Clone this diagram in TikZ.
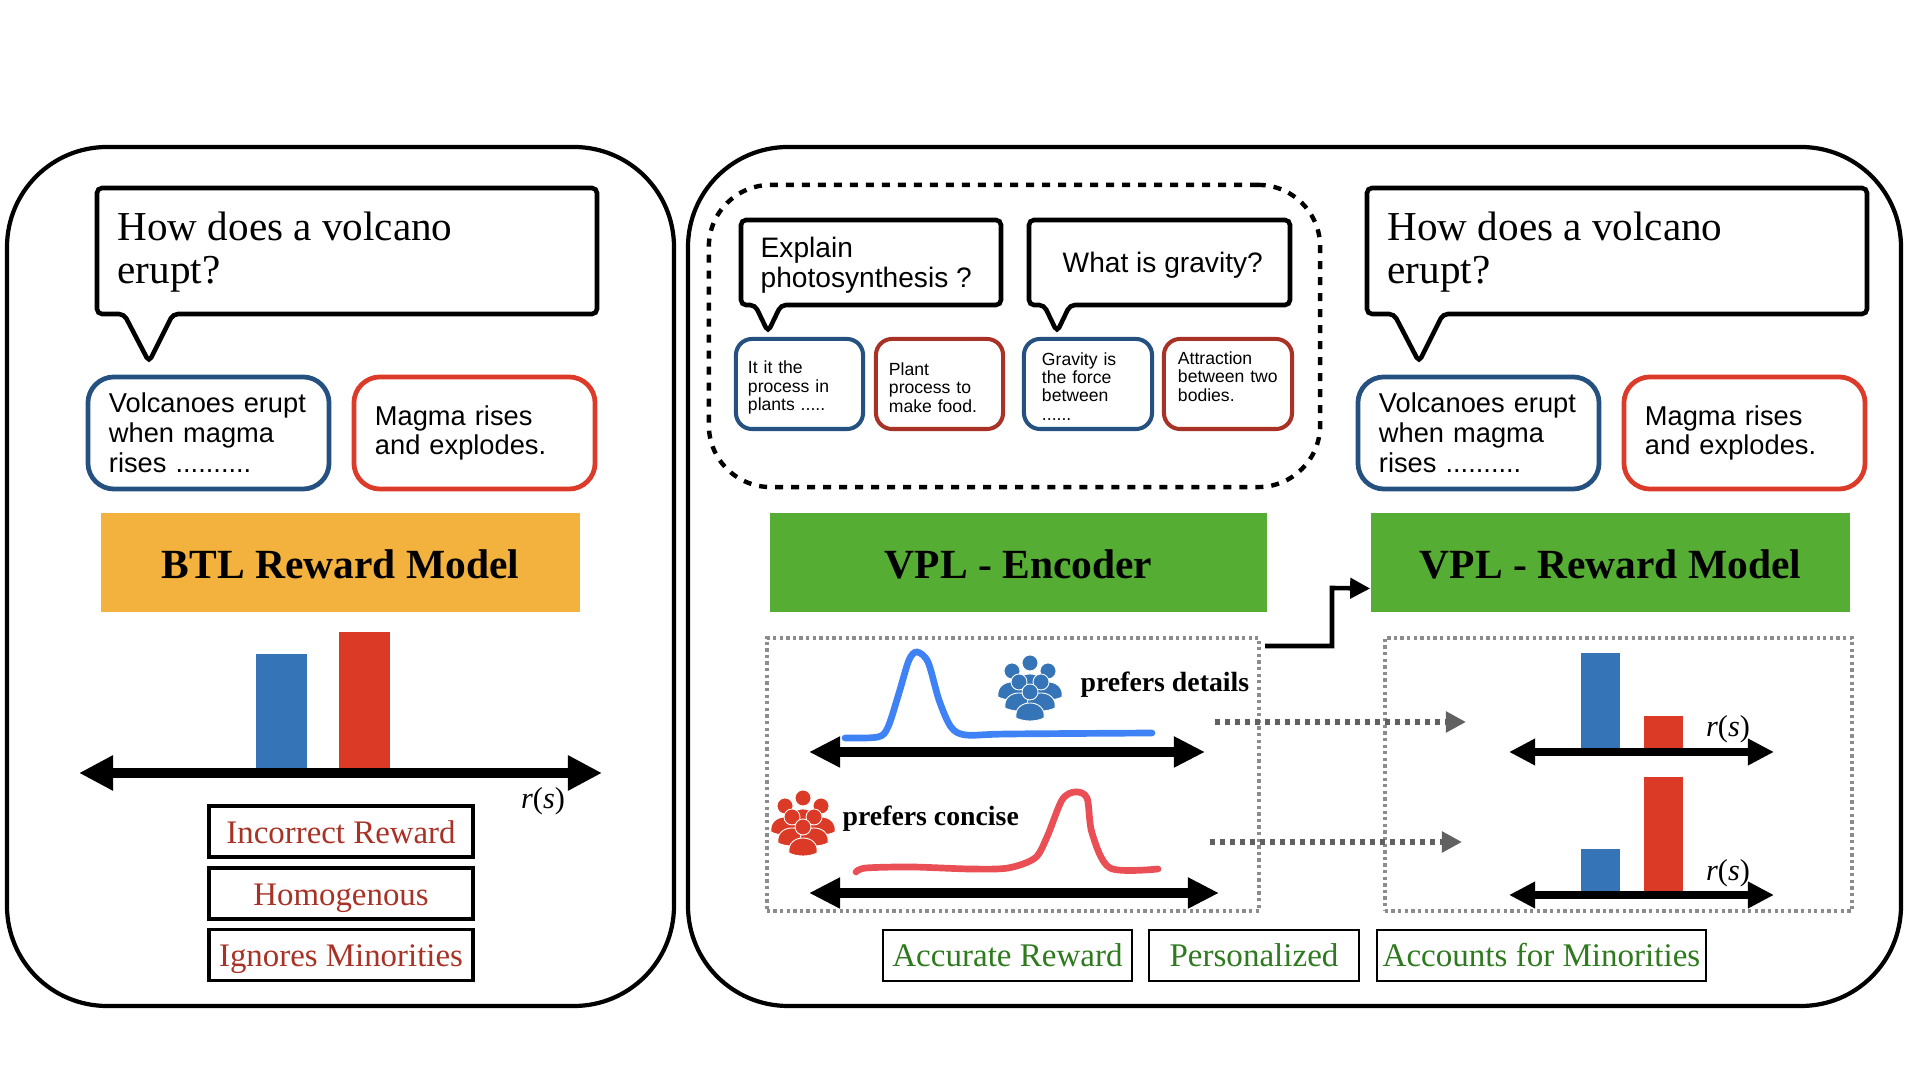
\documentclass[tikz,border=0pt]{standalone}
\usepackage{fontspec}
\usepackage{amsmath}
\setmainfont{Liberation Serif}
\newfontfamily\helvfont{Liberation Sans}
\usetikzlibrary{arrows.meta}
\definecolor{darkblue}{HTML}{24517F}
\definecolor{brightred}{HTML}{DC3B2A}
\definecolor{darkred}{HTML}{A93226}
\definecolor{barblue}{HTML}{3574B6}
\definecolor{barred}{HTML}{DB3B26}
\definecolor{btlorange}{HTML}{F3B13D}
\definecolor{vplgreen}{HTML}{55AE33}
\definecolor{goodgreen}{HTML}{2E7A1E}
\definecolor{curveblue}{HTML}{3F82F6}
\definecolor{curvered}{HTML}{E94F55}
\tikzset{
	panel/.style={draw, line width=1.2pt, rounded corners=1cm},
	bubble/.style={draw, line width=1.3pt, rounded corners=.05cm, fill=white},
	asktext/.style={anchor=west, align=left, inner sep=0pt, font=\fontsize{11.7}{12.2}\selectfont},
	midtext/.style={anchor=west, align=left, inner sep=0pt, font=\helvfont\fontsize{8}{8.5}\selectfont},
	answer/.style={draw=#1, line width=1.35pt, rounded corners=.26cm, minimum height=1.12cm,
		text width=1.99cm, inner xsep=.21cm, align=left, font=\helvfont\fontsize{7.75}{8.5}\selectfont},
	smallanswer/.style={draw=#1, line width=1.15pt, rounded corners=.16cm, minimum height=.9cm,
		inner ysep=0pt, align=left, font=\helvfont\fontsize{5}{5.2}\selectfont},
	modelbox/.style={fill=#1, minimum height=.99cm, text height=.32cm, text depth=0pt,
		font=\bfseries\fontsize{11.8}{14}\selectfont},
	badbox/.style={draw, line width=1pt, minimum width=2.64cm, minimum height=.51cm, text=darkred,
		inner xsep=0pt, text height=.24cm, text depth=0pt, font=\fontsize{9.35}{10}\selectfont},
	goodbox/.style={draw, line width=.6pt, minimum height=.51cm, text=goodgreen,
		inner xsep=0pt, text height=.23cm, text depth=0pt, font=\fontsize{9.4}{10}\selectfont},
	greybox/.style={draw=black!45, line width=1.05pt, dash pattern=on .033cm off .033cm},
	groupbox/.style={draw, line width=1.25pt, dash pattern=on .08cm off .08cm, rounded corners=.62cm},
	grouplabel/.style={inner sep=0pt, font=\bfseries\fontsize{7.9}{9}\selectfont},
	rlabel/.style={inner sep=0pt, font=\fontsize{8.6}{10}\selectfont},
	axisA/.style={{Triangle[length=.34cm,width=.33cm]}-{Triangle[length=.34cm,width=.33cm]}, line width=3.1pt},
	axisB/.style={{Triangle[length=.31cm,width=.29cm]}-{Triangle[length=.31cm,width=.29cm]}, line width=2.6pt},
	axisC/.style={{Triangle[length=.26cm,width=.25cm]}-{Triangle[length=.26cm,width=.25cm]}, line width=2.3pt},
	dotarrow/.style={draw=black!62, line width=1.5pt, dash pattern=on .05cm off .05cm,
		-{Triangle[length=.2cm,width=.2cm,fill=black!62]}},
	pics/people/.style={code={
		\foreach \hx/\hy in {0/-25, -18/-17, 18/-17, -11/-6, 11/-6, 0/4} {
			\filldraw[fill=#1, draw=white, line width=.25pt]
				(\hx-14,\hy+26) .. controls (\hx-17,\hy+6) and (\hx+17,\hy+6) .. (\hx+14,\hy+26)
				.. controls (\hx+6,\hy+30) and (\hx-6,\hy+30) .. cycle;
			\filldraw[fill=#1, draw=white, line width=.25pt] (\hx,\hy) circle (.08cm);
		}
	}}
}

\begin{document}
\begin{tikzpicture}[x=.01cm, y=-.01cm]
	\useasboundingbox (0,0) rectangle (1920,1080);

	\draw[panel] (7,147) rectangle (674,1006);
	\draw[panel] (688,147) rectangle (1901,1006);

	% left side
	\draw[bubble] (97,188) -- (597,188) -- (597,314) -- (173,314) -- (149,362) -- (124,314) -- (97,314) -- cycle;
	\node[asktext] (askL) at (117,252) {How does a volcano\\erupt?};
	\node[answer=darkblue] (ansLa) at (208.5,433) {Volcanoes erupt\\when magma\\rises ..........};
	\node[answer=brightred] (ansLb) at (474.5,433) {Magma rises\\and explodes.};
	\node[modelbox=btlorange, minimum width=4.79cm] (btl) at (340.5,562.5) {BTL Reward Model};

	\fill[barblue] (256,654) rectangle (307,770);
	\fill[barred] (339,632) rectangle (390,770);
	\coordinate (btlaxL) at (79,773);
	\coordinate (btlaxR) at (602,773);
	\draw[axisA] (btlaxL) -- (btlaxR);
	\node[rlabel] (rL) at (543,801) {\textit{r}(\textit{s})};

	\node[badbox] (bad1) at (341,831.5) {Incorrect Reward};
	\node[badbox] (bad2) at (341,893.5) {Homogenous};
	\node[badbox] (bad3) at (341,955) {Ignores Minorities};

	% right side, the group of other questions
	\node[groupbox, minimum width=6.11cm, minimum height=3.02cm] (others) at (1014.5,336) {};
	\draw[bubble] (741,220) -- (1001,220) -- (1001,305) -- (781,305) -- (768,332) -- (755,305) -- (741,305) -- cycle;
	\draw[bubble] (1029,220) -- (1290,220) -- (1290,305) -- (1070,305) -- (1057,332) -- (1044,305) -- (1029,305) -- cycle;
	\node[midtext] (askA) at (760,265) {Explain\\photosynthesis ?};
	\node[midtext] (askB) at (1062,265) {What is gravity?};
	\node[smallanswer=darkblue, minimum width=1.27cm, text width=1.03cm, inner xsep=.12cm] (ansA) at (799.5,384) {\mbox{}\\[.5pt]It it the\\process in\\plants .....};
	\node[smallanswer=darkred, minimum width=1.27cm, text width=1.01cm, inner xsep=.13cm] (ansB) at (939.5,384) {\mbox{}\\[.5pt]Plant\\process to\\make food.};
	\node[smallanswer=darkblue, minimum width=1.28cm, text width=.92cm, inner xsep=.18cm] (ansC) at (1088,384) {\mbox{}\\[-.2pt]Gravity is\\the force\\between\\......};
	\node[smallanswer=darkred, minimum width=1.28cm, text width=1cm, inner xsep=.14cm] (ansD) at (1228,384) {Attraction\\between two\\bodies.\\[-.9pt]\mbox{}};

	\draw[bubble] (1367,188) -- (1867,188) -- (1867,314) -- (1443,314) -- (1419,362) -- (1394,314) -- (1367,314) -- cycle;
	\node[asktext] (askR) at (1387,252) {How does a volcano\\erupt?};
	\node[answer=darkblue] (ansRa) at (1478.5,433) {Volcanoes erupt\\when magma\\rises ..........};
	\node[answer=brightred] (ansRb) at (1744.5,433) {Magma rises\\and explodes.};

	\node[modelbox=vplgreen, minimum width=4.97cm] (encoder) at (1018.5,562.5) {VPL - Encoder};
	\node[modelbox=vplgreen, minimum width=4.79cm] (rewardV) at (1610.5,562.5) {VPL - Reward Model};

	% grey boxes
	\node[greybox, minimum width=4.92cm, minimum height=2.73cm] (usersbox) at (1013,774.5) {};
	\node[greybox, minimum width=4.67cm, minimum height=2.73cm] (rewardsbox) at (1618.5,774.5) {};

	\coordinate (linkstart) at (1265,646);
	\coordinate (linkbend) at (1332,588);
	\coordinate (linkend) at ([yshift=-.26cm]rewardV.west);
	\draw[line width=1.3pt, -{Triangle[length=.2cm,width=.2cm]}] (linkstart) -| (linkbend) -- (linkend);

	% users and their curves
	\draw[curveblue, line width=1.9pt, line cap=round] plot[smooth, tension=.5] coordinates
		{(845,738) (878,737) (888,727) (899,693) (909,660) (917,652) (928,662) (939,700) (951,727) (966,735) (1008,734) (1152,733)};
	\draw[curvered, line width=1.9pt, line cap=round] plot[smooth, tension=.5] coordinates
		{(856,872) (866,868) (912,867) (970,869) (1008,868) (1035,858) (1047,837) (1062,800) (1075,792) (1087,798) (1092,833) (1110,868) (1158,869)};
	\coordinate (usaxL) at (809,752);
	\coordinate (usaxR) at (1205,752);
	\coordinate (vsaxL) at (809,893);
	\coordinate (vsaxR) at (1219,893);
	\draw[axisB] (usaxL) -- (usaxR);
	\draw[axisB] (vsaxL) -- (vsaxR);
	\pic at (1030,688) {people=barblue};
	\pic at (803,823) {people=barred};
	\node[grouplabel, anchor=base west] (details) at (1080,692) {prefers details};
	\node[grouplabel, anchor=base west] (concise) at (842,826) {prefers concise};

	\coordinate (dotAs) at (1215,722);
	\coordinate (dotAe) at (1466,722);
	\coordinate (dotBs) at (1210,842);
	\coordinate (dotBe) at (1462,842);
	\draw[dotarrow] (dotAs) -- (dotAe);
	\draw[dotarrow] (dotBs) -- (dotBe);

	% personalized bars
	\fill[barblue] (1581,653) rectangle (1620,750);
	\fill[barred] (1644,716) rectangle (1683,750);
	\fill[barblue] (1581,849) rectangle (1620,892);
	\fill[barred] (1644,777) rectangle (1683,892);
	\coordinate (raxL) at (1509,752);
	\coordinate (raxR) at (1774,752);
	\coordinate (saxL) at (1509,895);
	\coordinate (saxR) at (1774,895);
	\draw[axisC] (raxL) -- (raxR);
	\draw[axisC] (saxL) -- (saxR);
	\node[rlabel] (rA) at (1728,729) {\textit{r}(\textit{s})};
	\node[rlabel] (rB) at (1728,873) {\textit{r}(\textit{s})};

	\node[goodbox, minimum width=2.49cm] (good1) at (1007.5,955.5) {Accurate Reward};
	\node[goodbox, minimum width=2.1cm] (good2) at (1254,955.5) {Personalized};
	\node[goodbox, minimum width=3.29cm] (good3) at (1541.5,955.5) {Accounts for Minorities};
\end{tikzpicture}
\end{document}
